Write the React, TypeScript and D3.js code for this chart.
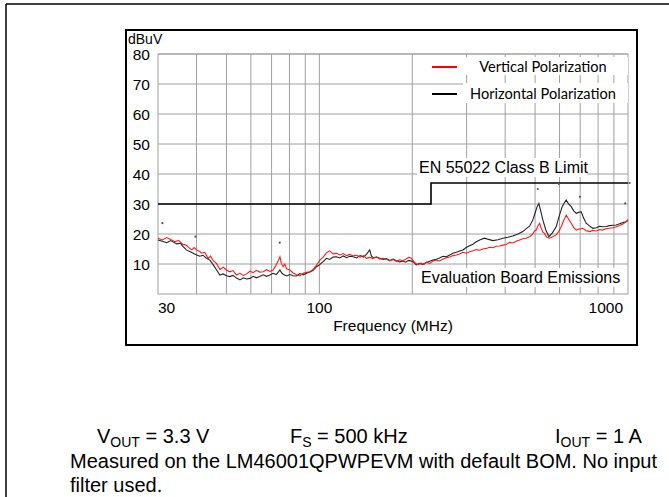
import React from "react";
import * as d3 from "d3";

type Pt = [number, number]; // [frequency MHz, level dBuV]

// Vertical polarization trace (red)
const verticalPolarization: Pt[] = [
  [30, 18.6], [31, 18.0], [32, 18.8], [33, 18.2], [34, 17.4], [35, 17.9], [36, 16.6], [37, 16.3],
  [38, 15.2], [38.6, 14.7], [39.3, 15.5], [40, 14.7], [41, 14.2], [41.5, 13.6], [42.5, 13.9],
  [43.6, 11.9], [44.4, 12.6], [45.3, 11.1], [46.4, 10.2], [47.6, 8.2], [48.8, 8.9], [50, 8.0],
  [51.3, 7.4], [52.5, 7.8], [53.9, 6.3], [55.3, 6.9], [56.7, 6.2], [58.1, 6.7], [59.6, 7.6],
  [61, 7.1], [62.5, 7.9], [64.1, 7.3], [65.8, 7.4], [67.4, 8.1], [69.1, 7.5], [70.8, 8.0],
  [72, 9.2], [73.5, 11.0], [74.5, 12.4], [75.3, 10.2], [76.3, 9.1], [77.3, 10.0], [78.3, 8.4],
  [80.2, 8.0], [82.2, 7.0], [84.3, 6.4], [86.4, 6.0], [88.6, 6.9], [90.8, 7.2], [93.1, 7.4],
  [95.5, 8.2], [97.9, 9.6], [100.3, 11.3], [102.8, 12.2], [105.5, 13.8], [108, 14.4],
  [110.8, 13.4], [113.6, 13.6], [116.5, 13.0], [119.5, 13.5], [122.5, 12.8], [125.5, 13.2],
  [128.6, 12.7], [132, 12.9], [135.5, 12.3], [139, 12.8], [142, 11.9], [145.6, 12.2],
  [149, 11.8], [153, 12.4], [156.9, 11.6], [160.9, 11.9], [164.9, 11.6], [169, 11.0],
  [173.3, 11.5], [177.7, 10.9], [181.9, 11.4], [186.2, 11.1], [190.5, 11.6], [194.7, 12.2],
  [198.7, 11.9], [203.5, 10.5], [208.7, 9.7], [213, 10.3], [218, 9.9], [222.5, 10.6],
  [227.7, 10.2], [233, 10.9], [239.3, 11.3], [245, 11.0], [250.8, 11.6], [257, 12.0],
  [264.3, 12.3], [271, 12.8], [277.9, 13.0], [284.7, 13.3], [291.8, 13.9], [299, 13.6],
  [306.7, 14.1], [314.5, 14.4], [322.4, 14.8], [331, 14.6], [339, 15.0], [347.5, 15.2],
  [356, 15.6], [365.1, 15.4], [374, 15.9], [383.5, 16.0], [393.3, 16.3], [403, 16.5],
  [413, 17.2], [423.6, 17.0], [434, 17.6], [445.3, 18.0], [456.4, 18.4], [467.8, 18.6],
  [479.8, 19.1], [491.7, 20.0], [498, 21.0], [504.3, 21.3], [510, 22.6], [516.8, 23.6],
  [523, 22.0], [529.8, 20.6], [536.5, 20.2], [545, 18.9], [556.8, 18.6], [570, 19.1],
  [585.3, 19.7], [596, 20.8], [607.6, 22.4], [619, 24.5], [630.6, 26.3], [642, 25.0],
  [654.6, 23.6], [666.8, 22.2], [679.5, 21.3], [692, 21.6], [713.8, 21.9], [732, 21.1],
  [750, 20.8], [768.8, 21.2], [790, 21.0], [808, 21.5], [828.2, 21.3], [850, 21.8],
  [872, 21.9], [893, 22.1], [915.6, 22.4], [940, 22.8], [963, 23.3], [986, 24.1], [1000, 24.8],
];

// Horizontal polarization trace (black)
const horizontalPolarization: Pt[] = [
  [30, 18.0], [31, 17.6], [32, 17.1], [33, 17.8], [34.5, 16.7], [35.5, 16.9], [36.3, 15.6],
  [37.1, 14.7], [38, 14.2], [38.6, 13.8], [39.3, 13.4], [40, 13.0], [41, 12.6], [42, 12.9],
  [43.1, 11.9], [44.2, 11.3], [45.3, 9.7], [46.4, 8.1], [47.6, 6.3], [48.8, 6.7], [50, 6.1],
  [51.3, 5.8], [52.5, 6.2], [53.9, 5.3], [55.3, 4.7], [56.7, 5.4], [58.1, 5.0], [59.6, 5.2],
  [61, 5.9], [62.5, 5.4], [64.1, 5.8], [65.8, 6.4], [67.4, 5.9], [69.1, 6.3], [70.8, 6.9],
  [72.5, 6.5], [74.5, 8.0], [75.5, 7.0], [76.3, 6.6], [78.3, 6.0], [80.2, 6.5], [82.2, 6.1],
  [84.3, 6.0], [86.4, 6.8], [88.6, 6.4], [90.8, 6.9], [93.1, 7.3], [95.5, 7.9], [97.9, 9.1],
  [100.3, 9.8], [102.8, 10.8], [105.5, 11.9], [108, 11.5], [110.8, 12.3], [113.6, 12.4],
  [116.5, 12.0], [119.5, 12.7], [122.5, 12.1], [125.5, 12.6], [128.6, 12.4], [132, 12.0],
  [135.5, 12.8], [139, 12.3], [142, 13.2], [145.6, 14.7], [147.5, 12.6], [150, 12.0],
  [153, 12.3], [156.9, 11.9], [160.9, 11.5], [164.9, 11.8], [169, 11.2], [173.3, 11.6],
  [177.7, 11.1], [181.9, 10.7], [186.2, 11.0], [190.5, 10.6], [194.7, 11.2], [201, 10.8],
  [206, 9.7], [211, 10.2], [217, 9.9], [222.5, 10.5], [227.7, 10.9], [233, 11.3],
  [239.3, 11.6], [245, 12.0], [251.5, 12.6], [258, 12.4], [264.3, 13.0], [271, 13.6],
  [277.9, 13.9], [284.7, 14.3], [291.8, 14.7], [299, 15.5], [306.7, 16.1], [314.5, 16.6],
  [322.4, 17.4], [332, 18.1], [343.1, 18.6], [353, 18.2], [365.1, 17.8], [379, 18.1],
  [393.3, 18.6], [408, 18.9], [423.6, 19.3], [440, 20.0], [456.4, 20.8], [467, 21.7],
  [479.8, 22.6], [491.7, 24.7], [500, 27.0], [508, 29.2], [514.2, 30.2], [521, 27.8],
  [529.8, 24.7], [541, 21.5], [554, 19.1], [568, 20.3], [585.3, 22.4], [597, 25.6],
  [612, 29.1], [622, 30.4], [630.6, 31.3], [642, 30.0], [654.6, 29.1], [667, 27.7],
  [679.5, 26.9], [692, 27.2], [705.3, 27.4], [718, 25.3], [732, 23.6], [750, 22.7],
  [768.8, 21.9], [790, 22.1], [808, 22.6], [828.2, 22.4], [850, 22.5], [872, 22.8],
  [893, 22.9], [915.6, 23.0], [940, 23.4], [963, 23.8], [986, 24.1], [1000, 24.5],
];

const classBLimit: Pt[] = [[30, 30], [230, 30], [230, 37], [1000, 37]];

// isolated detector points
const peakMarkers: Pt[] = [
  [31, 23.6], [39.7, 19.1], [74.4, 17.1], [510, 35], [597, 36.7], [699, 32.4], [979, 30.2], [1012, 37],
];

const yTicks = [10, 20, 30, 40, 50, 60, 70, 80];
const xTickLabels = [30, 100, 1000];
const xGridFreqs = [40, 50, 60, 70, 80, 90, 100, 200, 300, 400, 500, 600, 700, 800, 900];

const W = 669;
const H = 497;
const plot = { left: 158, right: 628, top: 54, bottom: 294 };
const arial = "'Liberation Sans', Arial, sans-serif";
const calibri = "Lato, 'Open Sans', sans-serif";

export default function App() {
  const x = d3.scaleLog().domain([30, 1000]).range([plot.left, plot.right]);
  const y = d3.scaleLinear().domain([0, 80]).range([plot.bottom, plot.top]);
  const line = d3.line<Pt>().x(d => x(d[0])).y(d => y(d[1]));
  const gridColor = "#a0a0a0";

  return (
    <svg width={W} height={H} style={{ position: "absolute", left: 0, top: 0, background: "#fff" }}>
      {/* outer frame */}
      <line x1={6} y1={4} x2={W} y2={4} stroke="#000" strokeWidth={1.5} />
      <line x1={6} y1={4} x2={6} y2={H} stroke="#000" strokeWidth={1.5} />

      {/* chart box */}
      <rect x={126} y={30} width={511} height={315} fill="#fff" stroke="#000" strokeWidth={2} />

      {/* grid */}
      {xGridFreqs.map(f => (
        <line key={"vx" + f} x1={x(f)} x2={x(f)} y1={plot.top} y2={plot.bottom} stroke={gridColor} strokeWidth={1} />
      ))}
      {yTicks.map(t => (
        <line key={"hy" + t} x1={plot.left} x2={plot.right} y1={y(t)} y2={y(t)} stroke={gridColor} strokeWidth={1} />
      ))}
      <rect x={plot.left} y={plot.top} width={plot.right - plot.left} height={plot.bottom - plot.top}
        fill="none" stroke={gridColor} strokeWidth={1} />

      {/* white boxes behind annotations */}
      <rect x={463} y={57} width={plot.right - 463} height={18} fill="#fff" />
      <rect x={463} y={83} width={plot.right - 463} height={20} fill="#fff" />
      <rect x={417} y={158} width={170} height={19} fill="#fff" />
      <rect x={419} y={268} width={202} height={19} fill="#fff" />

      {/* limit */}
      <path d={line(classBLimit) ?? ""} fill="none" stroke="#000" strokeWidth={1.6} />

      {/* emission traces */}
      <path d={line(horizontalPolarization) ?? ""} fill="none" stroke="#222" strokeWidth={1.1} />
      <path d={line(verticalPolarization) ?? ""} fill="none" stroke="#ff1a1a" strokeWidth={1.1} />

      {peakMarkers.map((d, i) => (
        <circle key={"pm" + i} cx={x(d[0])} cy={y(d[1])} r={1.1} fill="#555" />
      ))}

      {/* axes labels */}
      <text x={128} y={44} fontFamily={arial} fontSize={14}>dBuV</text>
      {yTicks.map(t => (
        <text key={"yl" + t} x={150} y={y(t) + 5.5} textAnchor="end" fontFamily={arial} fontSize={15.5}>{t}</text>
      ))}
      {xTickLabels.map((t, i) => (
        <text key={"xl" + t}
          x={i === 0 ? x(t) : i === xTickLabels.length - 1 ? x(t) - 5 : x(t)}
          y={313}
          textAnchor={i === 0 ? "start" : i === xTickLabels.length - 1 ? "end" : "middle"}
          fontFamily={arial} fontSize={15.5}>{t}</text>
      ))}
      <text x={(plot.left + plot.right) / 2} y={331} textAnchor="middle" fontFamily={arial} fontSize={15.5}>
        Frequency (MHz)
      </text>

      {/* legend */}
      <line x1={432} x2={457} y1={67} y2={67} stroke="#ff0000" strokeWidth={2} />
      <line x1={432} x2={457} y1={94} y2={94} stroke="#000" strokeWidth={2} />
      <text x={543} y={72} textAnchor="middle" fontFamily={calibri} fontSize={14.6}>Vertical Polarization</text>
      <text x={543} y={99} textAnchor="middle" fontFamily={calibri} fontSize={14.6}>Horizontal Polarization</text>

      <text x={419} y={173} fontFamily={arial} fontSize={16}>EN 55022 Class B Limit</text>
      <text x={421} y={283} fontFamily={arial} fontSize={16}>Evaluation Board Emissions</text>

      {/* conditions */}
      <text x={97} y={443} fontFamily={arial} fontSize={20}>
        V<tspan fontSize={14} dy={4}>OUT</tspan><tspan dy={-4}> = 3.3 V</tspan>
      </text>
      <text x={290} y={443} fontFamily={arial} fontSize={20}>
        F<tspan fontSize={14} dy={4}>S</tspan><tspan dy={-4}> = 500 kHz</tspan>
      </text>
      <text x={555} y={443} fontFamily={arial} fontSize={20}>
        I<tspan fontSize={14} dy={4}>OUT</tspan><tspan dy={-4}> = 1 A</tspan>
      </text>
      <text x={70} y={468} fontFamily={arial} fontSize={20}>
        Measured on the LM46001QPWPEVM with default BOM. No input
      </text>
      <text x={70} y={492} fontFamily={arial} fontSize={20}>filter used.</text>
    </svg>
  );
}
